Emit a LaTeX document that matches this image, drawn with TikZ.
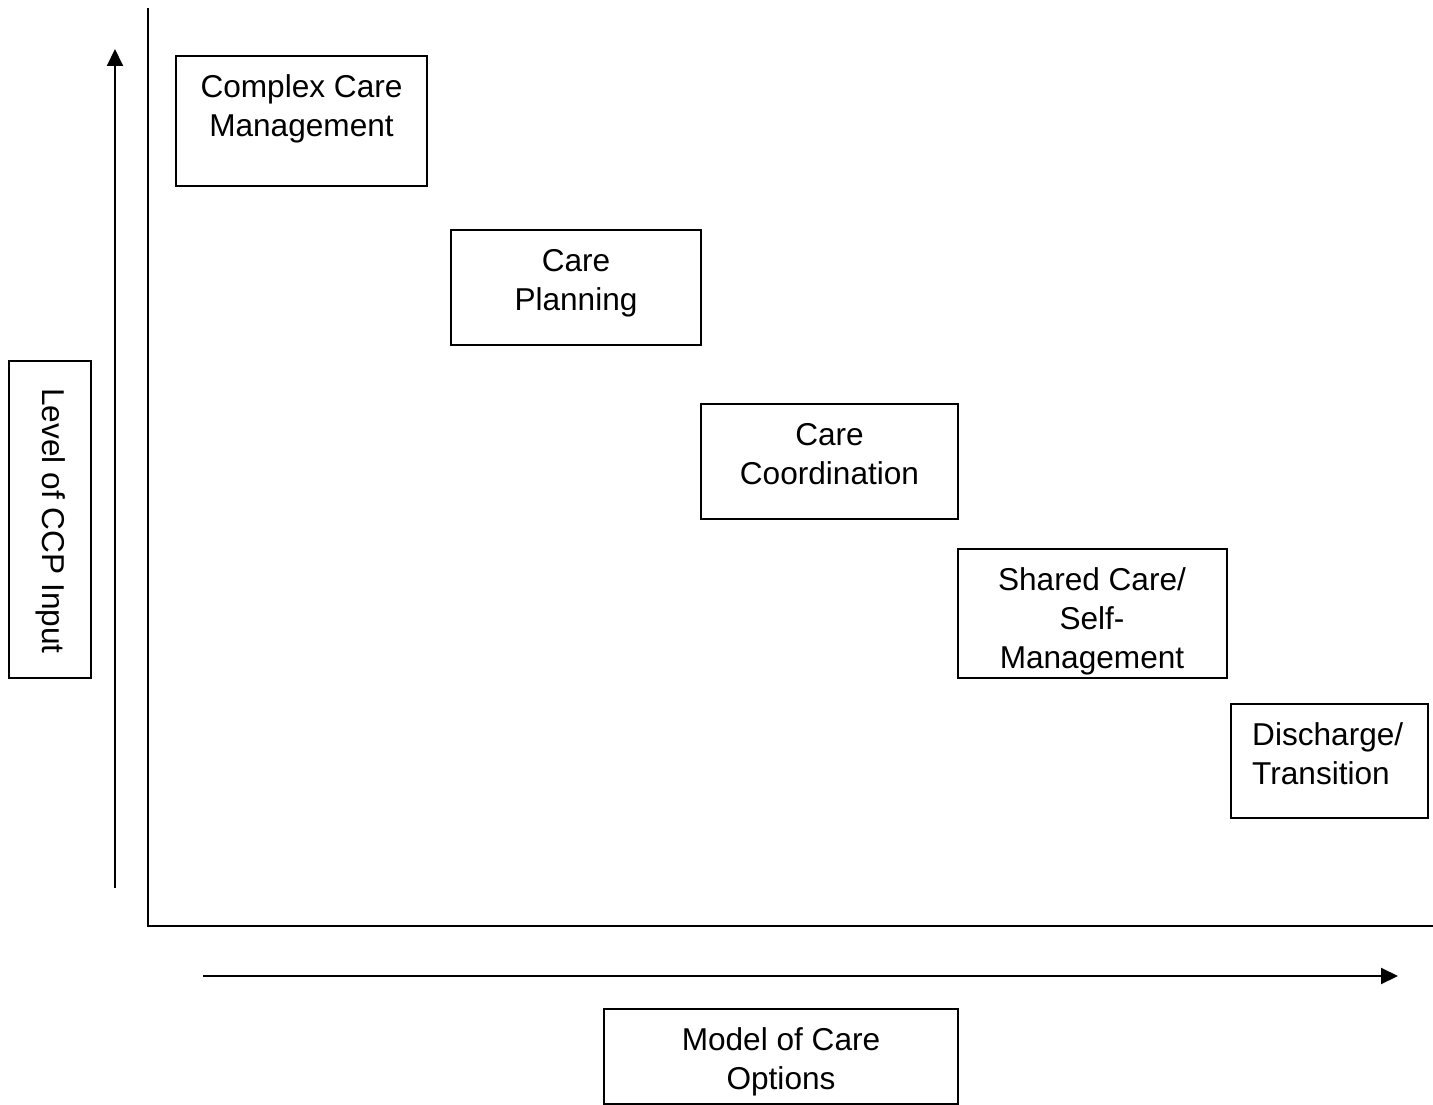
\documentclass[tikz,border=0pt]{standalone}
\usepackage{fontspec}
\setmainfont{Liberation Sans}
\usetikzlibrary{arrows.meta}
\begin{document}
\begin{tikzpicture}[x=1pt,y=-1pt,
  box/.style={draw, line width=1.6pt, inner sep=0pt},
  lbl/.style={inner sep=0pt, font=\fontsize{31.6}{39}\selectfont, align=center, anchor=north},
  axis/.style={line width=2pt},
  arr/.style={line width=2pt, -{Triangle[length=17pt,width=16pt]}}]
\useasboundingbox (0,0) rectangle (1433,1105);
% boxes
\node[box, minimum width=251pt, minimum height=130pt] (b1) at (301.5,121) {};
\node[lbl] (t1) at (301.5,74) {\rule{0pt}{23pt}Complex Care\\Management};
\node[box, minimum width=250pt, minimum height=115pt] (b2) at (576,287.5) {};
\node[lbl] (t2) at (576,248) {\rule{0pt}{23pt}Care\\Planning};
\node[box, minimum width=257pt, minimum height=115pt] (b3) at (829.5,461.5) {};
\node[lbl] (t3) at (829.5,422) {\rule{0pt}{23pt}Care\\Coordination};
\node[box, minimum width=269pt, minimum height=129pt] (b4) at (1092.5,613.5) {};
\node[lbl] (t4) at (1092,567) {\rule{0pt}{23pt}Shared Care/\\Self-\\Management};
\node[box, minimum width=197pt, minimum height=114pt] (b5) at (1329.5,761) {};
\node[lbl, align=left, anchor=north west] (t5) at (1252,722) {\rule{0pt}{23pt}Discharge/\\Transition};
\node[box, minimum width=354pt, minimum height=95pt] (b6) at (781,1056.5) {};
\node[lbl] (t6) at (781,1027) {\rule{0pt}{23pt}Model of Care\\Options};
\node[box, minimum width=82pt, minimum height=317pt] (b7) at (50,519.5) {};
\node[lbl, rotate=-90, anchor=center] (t7) at (51,521) {Level of CCP Input};
% axes
\coordinate (ytop) at (148,8);
\coordinate (orig) at (148,926);
\coordinate (xend) at (1433,926);
\draw[axis] (ytop) -- (orig) -- (xend);
% arrows
\coordinate (ua0) at (115,888);
\coordinate (ua1) at (115,49);
\draw[arr] (ua0) -- (ua1);
\coordinate (ra0) at (203,976);
\coordinate (ra1) at (1398,976);
\draw[arr] (ra0) -- (ra1);
\end{tikzpicture}
\end{document}
